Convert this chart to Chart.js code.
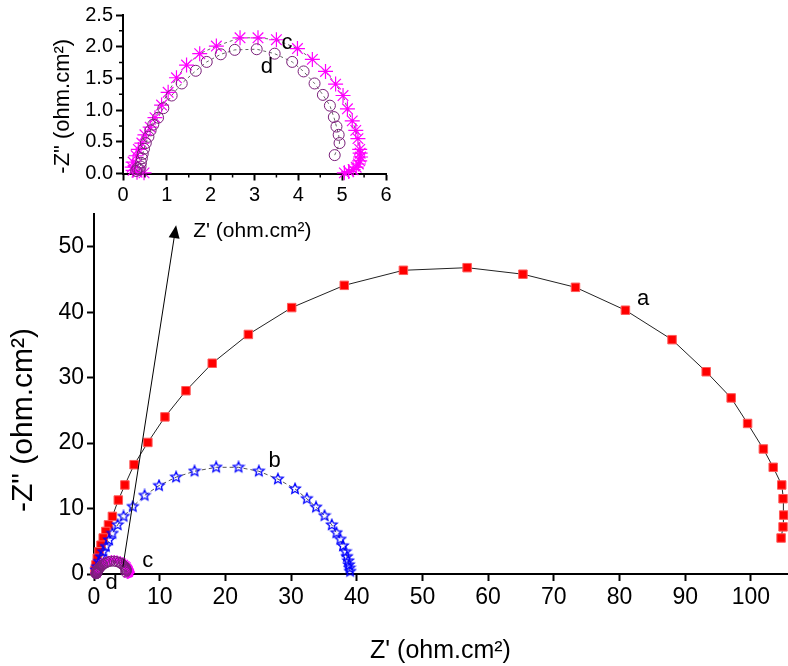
<!DOCTYPE html>
<html>
<head>
<meta charset="utf-8">
<script src="https://cdn.jsdelivr.net/npm/chart.js@4.4.0/dist/chart.umd.min.js"></script>
<style>
  html, body { margin: 0; padding: 0; background: #fff; }
  #wrap { position: relative; width: 788px; height: 666px; }
  canvas { position: absolute; left: 0; top: 0; }
</style>
</head>
<body>
<div id="wrap">
  <canvas id="main" width="788" height="666"></canvas>
  <canvas id="inset" width="400" height="210"></canvas>
</div>
<script>
// Z' and -Z'' (ohm.cm²) for the four samples
const aRe = [104.6, 104.9, 105.0, 104.9, 104.7, 103.4, 101.9, 99.5, 97.0, 93.2, 88.0, 80.9, 73.3, 65.3, 56.8, 47.1, 38.1, 30.1, 23.5, 18.0, 14.0, 10.8, 8.2, 6.1, 4.7, 3.7, 2.8, 2.2, 1.8, 1.4, 1.07, 0.76, 0.5, 0.3, 0.15];
const aIm = [5.5, 7.2, 9.0, 11.5, 13.6, 16.3, 19.1, 23.0, 26.9, 30.9, 35.8, 40.3, 43.8, 45.8, 46.8, 46.4, 44.1, 40.7, 36.6, 32.2, 28.0, 24.0, 20.1, 16.7, 13.6, 11.3, 8.8, 7.5, 6.5, 5.5, 4.4, 3.4, 2.4, 1.4, 0.6];

const bRe = [39.0, 38.9, 38.8, 38.7, 38.5, 38.3, 37.9, 37.5, 36.9, 36.2, 35.1, 33.8, 32.4, 30.6, 28.0, 25.1, 22.0, 18.6, 15.3, 12.5, 9.9, 7.7, 5.9, 4.5, 3.6, 2.8, 2.3, 1.8, 1.4, 1.07, 0.76, 0.5, 0.3];
const bIm = [0.4, 0.9, 1.4, 2.0, 2.65, 3.4, 4.3, 5.3, 6.3, 7.5, 8.9, 10.2, 11.5, 13.0, 14.5, 15.7, 16.3, 16.3, 15.7, 14.8, 13.5, 12.0, 10.3, 8.8, 7.5, 6.2, 5.2, 4.2, 3.4, 2.65, 1.9, 1.1, 0.6];

const cRe = [5.05, 5.15, 5.25, 5.32, 5.37, 5.40, 5.42, 5.41, 5.40, 5.36, 5.31, 5.23, 5.12, 5.02, 4.85, 4.62, 4.32, 3.98, 3.50, 3.08, 2.67, 2.13, 1.75, 1.45, 1.22, 1.03, 0.88, 0.73, 0.62, 0.50, 0.43, 0.35, 0.30, 0.23, 0.21, 0.23, 0.32, 0.48];
const cIm = [0.01, 0.03, 0.06, 0.10, 0.15, 0.20, 0.26, 0.32, 0.38, 0.55, 0.68, 0.83, 1.02, 1.23, 1.41, 1.61, 1.80, 1.97, 2.11, 2.14, 2.14, 2.01, 1.89, 1.71, 1.51, 1.28, 1.08, 0.88, 0.73, 0.61, 0.48, 0.38, 0.28, 0.18, 0.10, 0.05, 0.02, 0.01];

const dRe = [4.83, 4.94, 4.92, 4.87, 4.81, 4.72, 4.56, 4.37, 4.12, 3.86, 3.46, 3.05, 2.55, 2.23, 1.91, 1.66, 1.34, 1.11, 0.92, 0.80, 0.69, 0.63, 0.58, 0.52, 0.48, 0.45, 0.43, 0.41, 0.40, 0.38, 0.33, 0.30];
const dIm = [0.29, 0.48, 0.61, 0.74, 0.89, 1.07, 1.24, 1.42, 1.61, 1.76, 1.89, 1.96, 1.95, 1.88, 1.76, 1.62, 1.42, 1.23, 1.03, 0.88, 0.77, 0.68, 0.58, 0.48, 0.39, 0.31, 0.24, 0.17, 0.11, 0.06, 0.08, 0.04];

const FONT = '"Liberation Sans", Arial, Helvetica, sans-serif';
const TITLE_X = "Z' (ohm.cm²)";
const TITLE_Y = '-Z" (ohm.cm²)';

const toXY = (xs, ys) => xs.map((v, i) => ({ x: v, y: ys[i] }));

// open five-point star, used as point image for sample b
function starImage(r, color) {
  const c = document.createElement('canvas');
  const s = Math.ceil(r * 2 + 3);
  c.width = s; c.height = s;
  const g = c.getContext('2d');
  g.strokeStyle = color;
  g.lineWidth = 1.3;
  g.beginPath();
  for (let i = 0; i < 10; i++) {
    const rad = i % 2 ? r * 0.45 : r;
    const ang = -Math.PI / 2 + i * Math.PI / 5;
    const px = s / 2 + rad * Math.cos(ang), py = s / 2 + rad * Math.sin(ang);
    if (i) g.lineTo(px, py); else g.moveTo(px, py);
  }
  g.closePath();
  g.stroke();
  return c;
}

function makeDatasets(withAB, cRad, dRad) {
  const sets = [
    {
      data: toXY(dRe, dIm), pointStyle: 'circle', pointRadius: dRad,
      pointBorderColor: '#7a1f7a', pointBackgroundColor: 'rgba(0,0,0,0)', pointBorderWidth: 1,
      borderColor: '#666', borderWidth: 1, borderDash: [3, 3]
    },
    {
      data: toXY(cRe, cIm), pointStyle: 'star', pointRadius: cRad,
      pointBorderColor: '#ff00ff', pointBorderWidth: 1.2,
      borderColor: '#666', borderWidth: 1, borderDash: [3, 3]
    }
  ];
  if (withAB) {
    sets.push({
      data: toXY(bRe, bIm), pointStyle: starImage(5.5, '#0000ff'),
      borderColor: '#555', borderWidth: 1, borderDash: [4, 3]
    });
    sets.push({
      data: toXY(aRe, aIm), pointStyle: 'rect', pointRadius: 6,
      pointBackgroundColor: '#ff0000', pointBorderColor: '#ff5a5a', pointBorderWidth: 1,
      borderColor: '#222', borderWidth: 1
    });
  }
  return sets.map(s => Object.assign({ showLine: true, tension: 0, clip: false, fill: false }, s));
}

// text labels, arrow, minor ticks and axis titles
const notesPlugin = {
  id: 'notes',
  afterDraw(chart, args, opts) {
    const { ctx, chartArea, scales: { x, y } } = chart;
    ctx.save();
    ctx.fillStyle = '#000';
    ctx.strokeStyle = '#000';
    ctx.textBaseline = 'middle';

    if (opts.arrow) {
      const x0 = x.getPixelForValue(opts.arrow.from[0]), y0 = y.getPixelForValue(opts.arrow.from[1]);
      const x1 = x.getPixelForValue(opts.arrow.to[0]), y1 = y.getPixelForValue(opts.arrow.to[1]);
      const ang = Math.atan2(y1 - y0, x1 - x0);
      const hl = 13, hw = 5.5;
      ctx.lineWidth = 1;
      ctx.beginPath();
      ctx.moveTo(x0, y0);
      ctx.lineTo(x1 - hl * Math.cos(ang), y1 - hl * Math.sin(ang));
      ctx.stroke();
      ctx.beginPath();
      ctx.moveTo(x1, y1);
      ctx.lineTo(x1 - hl * Math.cos(ang) + hw * Math.sin(ang), y1 - hl * Math.sin(ang) - hw * Math.cos(ang));
      ctx.lineTo(x1 - hl * Math.cos(ang) - hw * Math.sin(ang), y1 - hl * Math.sin(ang) + hw * Math.cos(ang));
      ctx.closePath();
      ctx.fill();
    }

    (opts.labels || []).forEach(l => {
      ctx.font = l.size + 'px ' + FONT;
      ctx.textAlign = l.align || 'center';
      ctx.fillText(l.text, x.getPixelForValue(l.x), y.getPixelForValue(l.y));
    });

    if (opts.minor) {
      ctx.lineWidth = 1.5;
      ctx.beginPath();
      opts.minor.x.forEach(v => {
        const px = x.getPixelForValue(v);
        ctx.moveTo(px, chartArea.bottom);
        ctx.lineTo(px, chartArea.bottom + 4);
      });
      opts.minor.y.forEach(v => {
        const py = y.getPixelForValue(v);
        ctx.moveTo(chartArea.left - 4, py);
        ctx.lineTo(chartArea.left, py);
      });
      ctx.stroke();
    }

    if (opts.xTitle) {
      ctx.font = opts.xTitle.size + 'px ' + FONT;
      ctx.textAlign = 'center';
      ctx.fillText(TITLE_X, (chartArea.left + chartArea.right) / 2, chartArea.bottom + opts.xTitle.offset);
    }
    if (opts.yTitle) {
      ctx.font = opts.yTitle.size + 'px ' + FONT;
      ctx.textAlign = 'center';
      ctx.translate(opts.yTitle.left, (chartArea.top + chartArea.bottom) / 2 + opts.yTitle.shift);
      ctx.rotate(-Math.PI / 2);
      ctx.fillText(TITLE_Y, 0, 0);
    }
    ctx.restore();
  }
};

function axis(min, max, step, size, fit, fmt) {
  return {
    type: 'linear', min: min, max: max,
    ticks: {
      stepSize: step, includeBounds: false, color: '#000', padding: 3,
      font: { family: FONT, size: size },
      callback: fmt || (v => v)
    },
    grid: { drawOnChartArea: false, drawTicks: true, tickLength: 7, tickWidth: 2, tickColor: '#000' },
    border: { display: true, color: '#000', width: 2 },
    afterFit: fit
  };
}

const halfSteps = [0.5, 1.5, 2.5, 3.5, 4.5, 5.5];
const quarterSteps = [0.25, 0.75, 1.25, 1.75, 2.25];

new Chart(document.getElementById('main'), {
  type: 'scatter',
  data: { datasets: makeDatasets(true, 5, 5) },
  options: {
    responsive: false,
    animation: false,
    layout: { autoPadding: false, padding: { top: 214, right: 1, left: 0, bottom: 0 } },
    scales: {
      x: axis(0, 105.5, 10, 23, s => { s.height = 92; }),
      y: axis(0, 55, 10, 23, s => { s.width = 94; })
    },
    plugins: {
      legend: { display: false },
      tooltip: { enabled: false },
      notes: {
        arrow: { from: [4.4, 1.1], to: [12.5, 53.3] },
        labels: [
          { text: TITLE_X, x: 15.1, y: 52.4, size: 21, align: 'left' },
          { text: 'a', x: 83.6, y: 42.0, size: 22 },
          { text: 'b', x: 27.5, y: 17.3, size: 22 },
          { text: 'c', x: 8.2, y: 2.0, size: 22 },
          { text: 'd', x: 2.7, y: -1.4, size: 22 }
        ],
        xTitle: { size: 25, offset: 77 },
        yTitle: { size: 30, left: 24, shift: 26 }
      }
    }
  },
  plugins: [notesPlugin]
});

new Chart(document.getElementById('inset'), {
  type: 'scatter',
  data: { datasets: makeDatasets(false, 7.5, 5.5) },
  options: {
    responsive: false,
    animation: false,
    layout: { autoPadding: false, padding: { top: 7.5, right: 14, left: 0, bottom: 0 } },
    scales: {
      x: axis(0, 6, 1, 20, s => { s.height = 36.5; }),
      y: axis(0, 2.5, 0.5, 20, s => { s.width = 123; }, v => v.toFixed(1))
    },
    plugins: {
      legend: { display: false },
      tooltip: { enabled: false },
      notes: {
        labels: [
          { text: 'c', x: 3.74, y: 2.06, size: 22 },
          { text: 'd', x: 3.28, y: 1.68, size: 22 }
        ],
        minor: { x: halfSteps, y: quarterSteps },
        yTitle: { size: 22, left: 63, shift: 12 }
      }
    }
  },
  plugins: [notesPlugin]
});
</script>
</body>
</html>
